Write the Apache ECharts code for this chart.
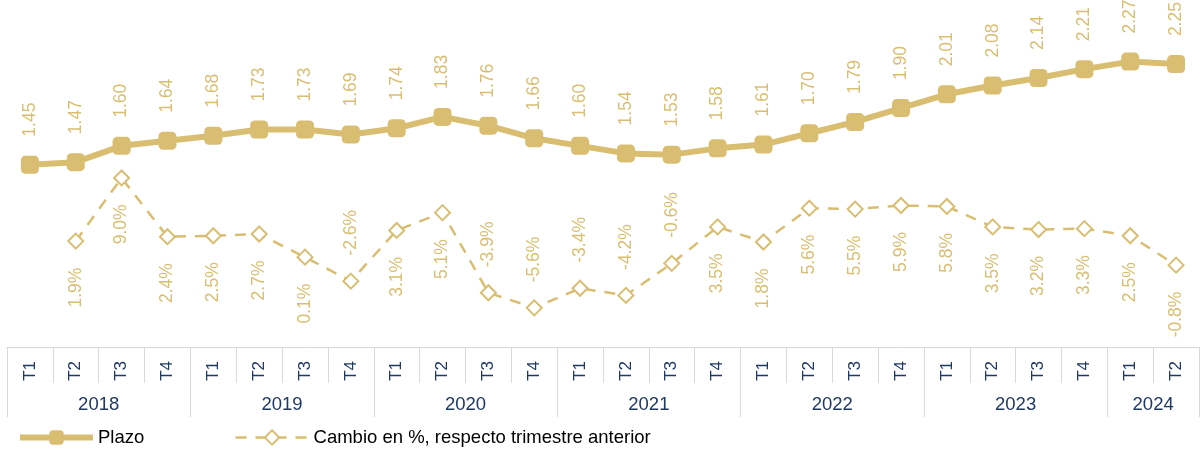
<!DOCTYPE html>
<html>
<head>
<meta charset="utf-8">
<script src="https://cdn.jsdelivr.net/npm/echarts@6/dist/echarts.min.js"></script>
<style>
  html, body { margin: 0; padding: 0; background: #fff; }
  #chart { width: 1201px; height: 449px; }
</style>
</head>
<body>
<div id="chart"></div>
<script>
const quarters = ['T1','T2','T3','T4','T1','T2','T3','T4','T1','T2','T3','T4','T1','T2','T3','T4',
  'T1','T2','T3','T4','T1','T2','T3','T4','T1','T2'];
const years = ['2018', '2019', '2020', '2021', '2022', '2023', '2024'];
const yearStarts = [0, 4, 8, 12, 16, 20, 24, 26];
const plazo = [1.45, 1.47, 1.60, 1.64, 1.68, 1.73, 1.73, 1.69, 1.74, 1.83, 1.76, 1.66, 1.60,
  1.54, 1.53, 1.58, 1.61, 1.70, 1.79, 1.90, 2.01, 2.08, 2.14, 2.21, 2.27, 2.25];
const cambio = [null, 1.9, 9.0, 2.4, 2.5, 2.7, 0.1, -2.6, 3.1, 5.1, -3.9, -5.6, -3.4, -4.2,
  -0.6, 3.5, 1.8, 5.6, 5.5, 5.9, 5.8, 3.5, 3.2, 3.3, 2.5, -0.8];

const gold = '#d9be72';
const navy = '#1f3864';
const font = '"Liberation Sans", Arial, sans-serif';

const yearMid = years.map((y, i) => (yearStarts[i] + yearStarts[i + 1]) / 2);

const chart = echarts.init(document.getElementById('chart'));

// negative changes get their label above the marker, except the last point
const cambioData = cambio.map((v, i) => {
  if (v == null) return null;
  const up = v < 0 && i < cambio.length - 1;
  return {
    value: v,
    label: {
      position: up ? 'top' : 'bottom',
      align: up ? 'left' : 'right',
      distance: up ? 17 : 18
    }
  };
});

chart.setOption({
  animation: false,
  textStyle: { fontFamily: font },
  grid: { left: 7, right: 2, top: 0, bottom: 102 },
  legend: {
    left: 12, top: 423,
    itemWidth: 73, itemHeight: 18, itemGap: 90,
    textStyle: { fontSize: 18.5, color: '#000', fontFamily: font },
    data: [
      { name: 'Plazo', lineStyle: { width: 6 } },
      { name: 'Cambio en %, respecto trimestre anterior', lineStyle: { width: 2.5 } }
    ]
  },
  xAxis: [{
    type: 'category',
    data: quarters,
    boundaryGap: true,
    axisLine: { onZero: false, lineStyle: { color: '#d9d9d9', width: 1 } },
    axisTick: { show: true, interval: 0, length: 36, lineStyle: { color: '#d9d9d9' } },
    axisLabel: { interval: 0, rotate: 90, margin: 14, color: navy, fontSize: 17, fontFamily: font },
    splitLine: { show: false }
  }, {
    type: 'value',
    min: 0, max: 26,
    position: 'bottom',
    axisLine: { show: false, onZero: false },
    axisTick: { show: true, inside: false, length: 70, customValues: yearStarts, lineStyle: { color: '#d9d9d9' } },
    axisLabel: {
      customValues: yearMid, margin: 48, color: navy, fontSize: 18.5, fontFamily: font,
      formatter: v => years[yearMid.indexOf(v)] || ''
    },
    splitLine: { show: false }
  }],
  yAxis: [
    { type: 'value', min: 0, max: 2.76, show: false },
    { type: 'value', min: -10, max: 29, show: false }
  ],
  series: [{
    name: 'Plazo',
    type: 'line',
    xAxisIndex: 0, yAxisIndex: 0,
    data: plazo,
    symbol: 'roundRect',
    symbolSize: 18,
    lineStyle: { color: gold, width: 6 },
    itemStyle: { color: gold },
    label: {
      show: true, position: 'top', rotate: 90, align: 'left', verticalAlign: 'middle',
      distance: 19, color: gold, fontSize: 17.5, fontFamily: font,
      formatter: p => p.value.toFixed(2)
    },
    z: 3
  }, {
    name: 'Cambio en %, respecto trimestre anterior',
    type: 'line',
    xAxisIndex: 0, yAxisIndex: 1,
    data: cambioData,
    symbol: 'diamond',
    symbolSize: 15,
    showAllSymbol: true,
    lineStyle: { color: gold, width: 2.5, type: [11, 9] },
    itemStyle: { color: '#fff', borderColor: gold, borderWidth: 2 },
    label: {
      show: true, rotate: 90, verticalAlign: 'middle',
      color: gold, fontSize: 17.5, fontFamily: font,
      formatter: p => p.value.toFixed(1) + '%'
    },
    z: 2
  }]
});
</script>
</body>
</html>
